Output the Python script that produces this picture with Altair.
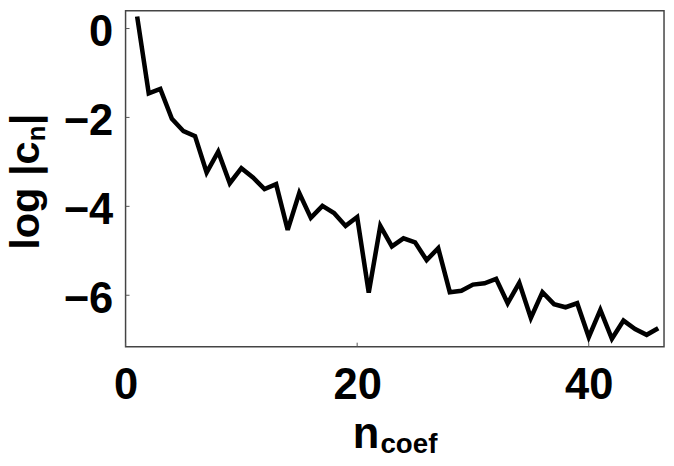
import altair as alt
import pandas as pd

n_vals = list(range(1, 47))
log_c = [0.27, -1.46, -1.36, -2.03, -2.31, -2.42, -3.24, -2.77, -3.48, -3.14,
         -3.35, -3.61, -3.50, -4.53, -3.70, -4.26, -3.99, -4.15, -4.44, -4.24,
         -5.94, -4.44, -4.90, -4.72, -4.81, -5.21, -4.94, -5.93, -5.90, -5.76,
         -5.73, -5.63, -6.18, -5.72, -6.51, -5.93, -6.20, -6.27, -6.18, -6.94,
         -6.33, -6.98, -6.57, -6.76, -6.89, -6.74]
x_ticks = [0, 20, 40]
y_ticks = [0, -2, -4, -6]

FONT = "Liberation Sans"
W, H = 545, 340
xdom = [0, 46.5]
ydom = [-7.156, 0.4]

df = pd.DataFrame({"n": n_vals, "c": log_c})

xs = alt.Scale(domain=xdom, nice=False, zero=False)
ys = alt.Scale(domain=ydom, nice=False, zero=False)

x_axis = alt.Axis(values=x_ticks, ticks=False, domain=False, grid=False, title=None,
                  labelFont=FONT, labelFontWeight="bold", labelFontSize=44,
                  labelColor="black", labelPadding=17, labelFlush=False)
y_axis = alt.Axis(values=y_ticks, ticks=False, domain=False, grid=False, title=None,
                  labelFont=FONT, labelFontWeight="bold", labelFontSize=44,
                  labelColor="black", labelPadding=13, labelOffset=4)

line = alt.Chart(df).mark_line(color="black", strokeWidth=4.6, strokeJoin="miter",
                               strokeMiterLimit=3, clip=True).encode(
    x=alt.X("n:Q", scale=xs, axis=x_axis),
    y=alt.Y("c:Q", scale=ys, axis=y_axis),
)

xt = alt.Chart(pd.DataFrame({"t": x_ticks})).mark_rule(color="#555", strokeWidth=1).encode(
    x=alt.X("t:Q", scale=xs), y=alt.value(H), y2=alt.value(H - 4))
yt = alt.Chart(pd.DataFrame({"t": y_ticks})).mark_rule(color="#555", strokeWidth=1).encode(
    y=alt.Y("t:Q", scale=ys), x=alt.value(0), x2=alt.value(4))


def txt(s, px, py, size, angle=0):
    kw = dict(font=FONT, fontWeight="bold", fontSize=size, color="black",
              align="left", baseline="alphabetic")
    if angle:
        kw["angle"] = angle
    return alt.Chart(pd.DataFrame({"s": [s]})).mark_text(**kw).encode(
        x=alt.value(px), y=alt.value(py), text="s:N")


titles = [
    txt("log |c", -88, 242, 42, 270),
    txt("n", -82, 132, 26, 270),
    txt("|", -88, 116, 42, 270),
    txt("n", 230, 443, 44),
    txt("coef", 258, 448, 28),
]

chart = alt.layer(line, xt, yt, *titles).properties(
    width=W, height=H,
    autosize=alt.AutoSizeParams(type="none"),
    padding={"left": 119, "top": 0, "right": 2, "bottom": 116},
).configure_view(stroke="#444", strokeWidth=1.5)

chart.save("out.html", embed_options={"renderer": "svg", "actions": False})
